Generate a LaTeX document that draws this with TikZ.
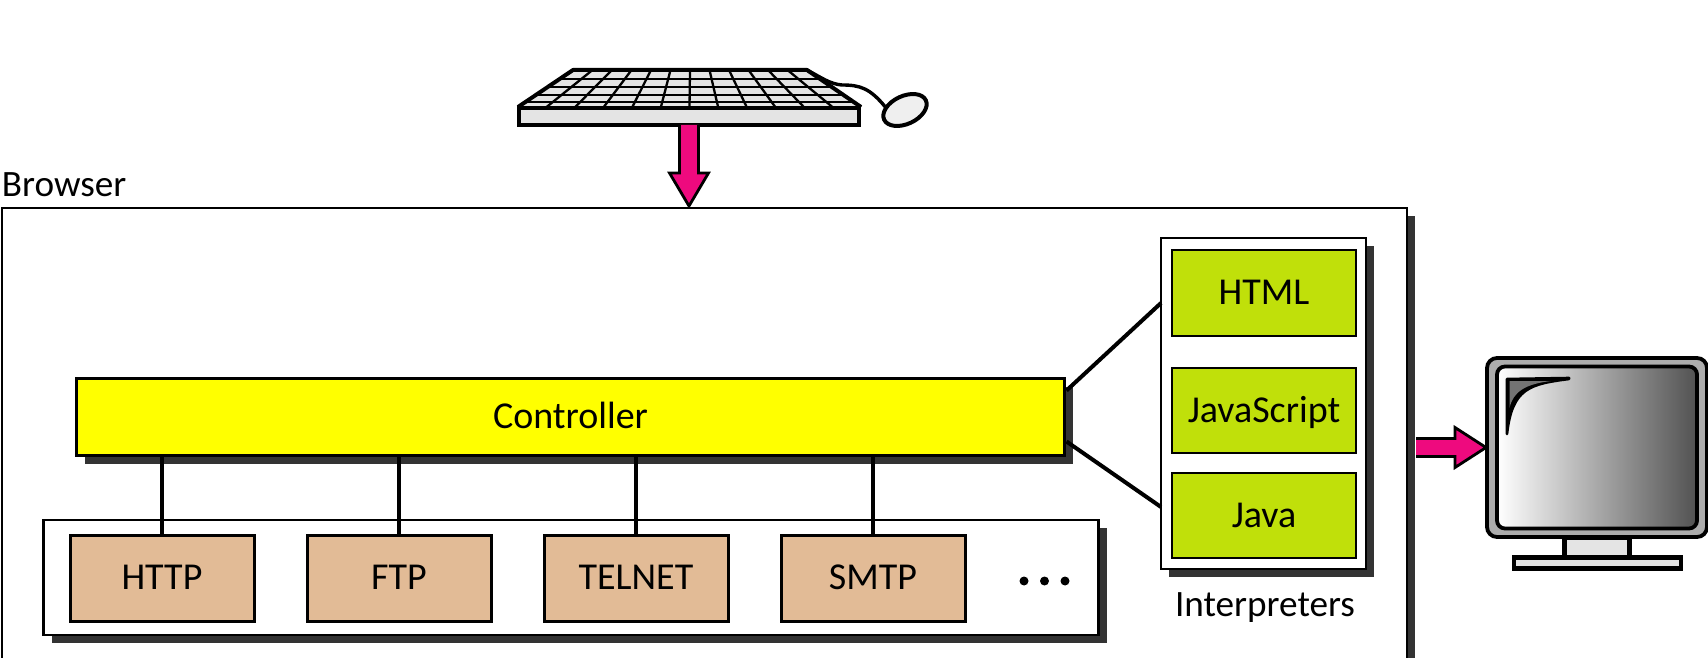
\documentclass[tikz,border=0pt]{standalone}
\usepackage{fontspec}
\setmainfont{Carlito}
\usetikzlibrary{calc,shadows,shapes.geometric}
\definecolor{shadowgray}{HTML}{333333}
\definecolor{pink}{HTML}{EE0A7E}
\definecolor{lime}{HTML}{C0E00A}
\definecolor{tan2}{HTML}{E2BB96}
\definecolor{light}{HTML}{E4E4E4}
\definecolor{pureyellow}{rgb}{1,1,0}
\tikzset{
  x=0.5pt,y=-0.5pt,
  every node/.style={inner sep=0pt,outer sep=0pt},
  shad/.style={drop shadow={shadow xshift=4pt,shadow yshift=-4pt,fill=shadowgray,opacity=1}},
  label/.style={font=\fontsize{19pt}{22pt}\selectfont,text height=13pt,text depth=1.5pt},
  panel/.style={draw=black,line width=1.3pt,fill=white,shad},
  ctrlbox/.style={draw=black,line width=1.4pt,fill=pureyellow,shad,label},
  green/.style={draw=black,line width=1.4pt,fill=lime,minimum width=92pt,label},
  proto/.style={draw=black,line width=1.5pt,fill=tan2,minimum width=92pt,minimum height=43pt,label},
  conn/.style={line width=2pt,black},
  fatarrow/.style={draw=black,line width=1.4pt,fill=pink,line join=miter},
  kbline/.style={line width=1.15pt,black},
  hw/.style={draw=black,line width=2.2pt,fill=light},
  dot/.style={circle,fill=black,minimum size=4.5pt},
  caption/.style={font=\fontsize{18.6pt}{22pt}\selectfont,anchor=base west}
}
\begin{document}
\begin{tikzpicture}
\useasboundingbox (0,0) rectangle (1708,658);
\clip (0,0) rectangle (1708,658);
% Browser
\node[panel,minimum width=702.5pt,minimum height=280pt,anchor=north west] (browser) at (2,208) {};
\node[caption] (browserlabel) at (2,196) {Browser};
% Keyboard
\fill[light] (573,70) -- (807,70) -- (861,107) -- (518,107) -- cycle;
\foreach \yy in {70,79,87,95,102}{
  \pgfmathsetmacro{\xl}{573-55*(\yy-70)/37}
  \pgfmathsetmacro{\xr}{807+54*(\yy-70)/37}
  \draw[kbline] (\xl,\yy) -- (\xr,\yy);
}
\foreach \i in {0,...,12}{
  \pgfmathsetmacro{\xt}{573+\i*234/12}
  \pgfmathsetmacro{\xb}{518+\i*343/12}
  \draw[kbline] (\xt,70) -- (\xb,107);
}
\draw[line width=2pt,line join=round] (518,107) -- (573,70) -- (807,70) -- (861,107);
\node[hw,minimum width=170pt,minimum height=8.5pt,anchor=north west] (kbfront) at (519,108) {};
\coordinate (kbback) at (807,70);
\node[ellipse,draw=black,line width=2pt,fill=light!60!white,minimum width=23pt,minimum height=14pt,rotate=25] (mouse) at (905,110) {};
\draw[line width=1.7pt] (kbback) .. controls (822,78) and (830,84) .. (842,85) .. controls (860,85) and (870,88) .. (mouse.north west);
% Keyboard arrow
\coordinate (ka) at (kbfront.south);
\coordinate (kb) at (browser.north -| kbfront.south);
\draw[fatarrow] ($(ka)+(-9.5,0)$) -- ($(kb)+(-9.5,-35)$) -- ($(kb)+(-19.5,-35)$) -- ($(kb)+(0,-2)$) -- ($(kb)+(19.5,-35)$) -- ($(kb)+(9.5,-35)$) -- ($(ka)+(9.5,0)$);
% Controller
\node[ctrlbox,minimum width=494pt,minimum height=38.5pt] (ctrl) at (570.5,417) {Controller};
% Protocols
\node[panel,minimum width=527.5pt,minimum height=57.5pt,anchor=north west] (protopanel) at (43.5,520) {};
\node[proto] (http) at (162,578) {HTTP};
\node[proto] (ftp) at (399,578) {FTP};
\node[proto] (telnet) at (636,578) {TELNET};
\node[proto] (smtp) at (873,578) {SMTP};
\node[dot] (d1) at (1024,581) {};
\node[dot] (d2) at (1044.5,581) {};
\node[dot] (d3) at (1065,581) {};
\foreach \n in {http,ftp,telnet,smtp}{
  \draw[conn] (ctrl.south -| \n.north) -- (\n.north);
}
% Interpreters
\node[panel,minimum width=102.5pt,minimum height=165.5pt,anchor=north west] (interp) at (1161,238) {};
\node[green,minimum height=43pt] (html) at (1264,293) {HTML};
\node[green,minimum height=42.5pt] (js) at (1264,410.5) {JavaScript};
\node[green,minimum height=42.5pt] (java) at (1264,515.5) {Java};
\node[caption] (interplabel) at (1175,616) {Interpreters};
\draw[conn] ($(ctrl.north east)+(2,12)$) -- ($(interp.north west)+(0,65)$);
\draw[conn] ($(ctrl.north east)+(2,63)$) -- ($(interp.north west)+(0,269)$);
% Monitor
\node[draw=black,line width=1.9pt,fill=black!32,rounded corners=5pt,minimum width=110pt,minimum height=89.5pt,anchor=north west] (mon) at (1487,358) {};
\node[draw=black,line width=1.9pt,left color=white,right color=black!68,rounded corners=4pt,minimum width=100pt,minimum height=81pt,anchor=north west] (screen) at (1497,366.5) {};
\draw[line width=1.3pt,line join=round,fill=black] (1507,434) -- (1507,379) -- (1569,378) -- (1569,379) .. controls (1530,384) and (1512,388) .. (1507,434) -- cycle;
\fill[black!55] (1509.5,381) -- (1551,381) .. controls (1525,384) and (1513,392) .. (1509.5,408) -- cycle;
\node[hw,minimum width=32.5pt,minimum height=10pt,anchor=north west] (stand) at (1564.5,537.5) {};
\node[hw,minimum width=83.5pt,minimum height=5.5pt,anchor=north west] (base) at (1514,557.5) {};
% Monitor arrow
\coordinate (ma) at ($(browser.east |- mon.west)+(9,0)$);
\coordinate (mb) at (mon.west);
\draw[fatarrow] ($(ma)+(0,-9)$) -- ($(mb)+(-32,-9)$) -- ($(mb)+(-32,-20)$) -- ($(mb)+(-1,0)$) -- ($(mb)+(-32,20)$) -- ($(mb)+(-32,9)$) -- ($(ma)+(0,9)$);
\end{tikzpicture}
\end{document}
